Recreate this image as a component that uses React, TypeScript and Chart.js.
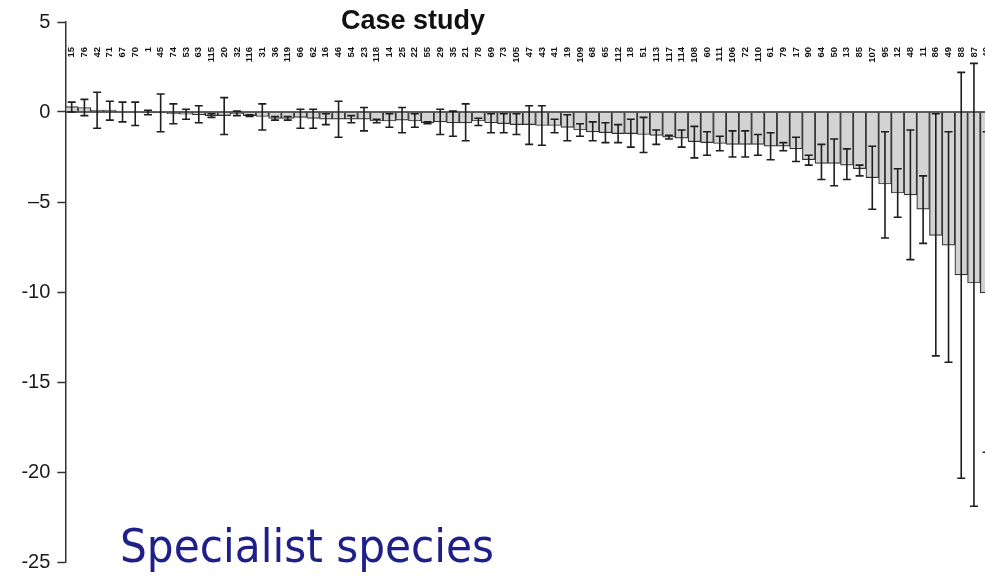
import React, { useEffect, useRef } from "react";
import { Chart, registerables } from "chart.js";

Chart.register(...registerables);

// ---- data ----
const caseStudies = [
  "15", "76", "42", "71", "67", "70", "1", "45", "74", "53",
  "63", "115", "20", "32", "116", "31", "36", "119", "66", "62",
  "16", "46", "54", "23", "118", "14", "25", "22", "55", "29",
  "35", "21", "78", "69", "73", "105", "47", "43", "41", "19",
  "109", "68", "65", "112", "18", "51", "113", "117", "114", "108",
  "60", "111", "106", "72", "110", "61", "79", "17", "90", "64",
  "50", "13", "85", "107", "95", "12", "48", "11", "86", "49",
  "88", "87", "40",
];

const means = [
  0.3, 0.25, 0.1, 0.1, 0.0, 0.0, -0.05, -0.05, -0.1, -0.12,
  -0.15, -0.2, -0.2, -0.1, -0.2, -0.25, -0.35, -0.35, -0.3, -0.35,
  -0.4, -0.4, -0.4, -0.4, -0.5, -0.5, -0.45, -0.5, -0.6, -0.55,
  -0.6, -0.6, -0.5, -0.6, -0.65, -0.7, -0.7, -0.75, -0.75, -0.85,
  -1.0, -1.1, -1.15, -1.2, -1.2, -1.25, -1.3, -1.4, -1.45, -1.65,
  -1.7, -1.75, -1.8, -1.8, -1.8, -1.9, -1.9, -2.05, -2.65, -2.85,
  -2.85, -2.95, -3.15, -3.65, -4.0, -4.5, -4.6, -5.4, -6.85, -7.4,
  -9.05, -9.5, -10.05,
];

const lowerBounds = [
  0.0, -0.2, -0.9, -0.45, -0.55, -0.75, -0.15, -1.1, -0.65, -0.4,
  -0.6, -0.3, -1.25, -0.2, -0.25, -1.0, -0.45, -0.45, -0.9, -0.9,
  -0.7, -1.4, -0.6, -1.05, -0.6, -0.85, -1.15, -0.85, -0.65, -1.25,
  -1.35, -1.6, -0.75, -1.15, -1.15, -1.25, -1.8, -1.85, -1.15, -1.6,
  -1.35, -1.6, -1.7, -1.7, -1.95, -2.25, -1.8, -1.5, -1.95, -2.55,
  -2.4, -2.15, -2.5, -2.5, -2.4, -2.65, -2.15, -2.75, -2.95, -3.75,
  -4.1, -3.75, -3.55, -5.4, -7.0, -5.85, -8.2, -7.3, -13.55, -13.9,
  -20.35, -21.9, -18.9,
];

const upperBounds = [
  0.55, 0.7, 1.1, 0.6, 0.55, 0.55, 0.1, 1.0, 0.45, 0.15,
  0.35, -0.1, 0.8, 0.05, -0.15, 0.45, -0.25, -0.25, 0.15, 0.15,
  -0.1, 0.6, -0.2, 0.25, -0.4, -0.1, 0.25, -0.1, -0.55, 0.15,
  0.05, 0.45, -0.35, -0.1, -0.1, -0.1, 0.35, 0.35, -0.4, -0.15,
  -0.65, -0.55, -0.6, -0.7, -0.4, -0.3, -1.0, -1.3, -1.0, -0.8,
  -1.1, -1.35, -1.05, -1.05, -1.25, -1.15, -1.7, -1.4, -2.4, -1.8,
  -1.5, -2.05, -2.95, -1.9, -1.1, -3.15, -1.0, -3.55, -0.1, -1.1,
  2.2, 2.7, -1.1,
];

const yTickValues = [5, 0, -5, -10, -15, -20, -25];
const yTickLabels = ["5", "0", "\u20135", "-10", "-15", "-20", "-25"];

const titleText = "Case study";
const captionText = "Specialist species";

// ---- plugins ----
const errorBarPlugin = {
  id: "errorBars",
  afterDatasetsDraw(chart: any) {
    const { ctx, chartArea } = chart;
    const yScale = chart.scales.y;
    const meta = chart.getDatasetMeta(0);
    ctx.save();
    // zero line
    const y0 = yScale.getPixelForValue(0);
    ctx.strokeStyle = "#2a2a2a";
    ctx.lineWidth = 1.5;
    ctx.beginPath();
    ctx.moveTo(chartArea.left, y0);
    ctx.lineTo(chartArea.right, y0);
    ctx.stroke();
    // error bars
    const cap = 4;
    ctx.strokeStyle = "#1e1e1e";
    ctx.lineWidth = 1.6;
    meta.data.forEach((bar: any, i: number) => {
      const x = bar.x;
      const yLo = yScale.getPixelForValue(lowerBounds[i]);
      const yHi = yScale.getPixelForValue(upperBounds[i]);
      ctx.beginPath();
      ctx.moveTo(x, yLo);
      ctx.lineTo(x, yHi);
      ctx.moveTo(x - cap, yLo);
      ctx.lineTo(x + cap, yLo);
      ctx.moveTo(x - cap, yHi);
      ctx.lineTo(x + cap, yHi);
      ctx.stroke();
    });
    ctx.restore();
  },
};

const caseLabelPlugin = {
  id: "caseLabels",
  afterDraw(chart: any) {
    const { ctx } = chart;
    const xScale = chart.scales.x;
    ctx.save();
    ctx.fillStyle = "#111";
    ctx.font = 'bold 9.5px "Liberation Sans", Arial, sans-serif';
    ctx.textAlign = "right";
    ctx.textBaseline = "middle";
    caseStudies.forEach((lab, i) => {
      const x = xScale.getPixelForValue(i);
      ctx.save();
      ctx.translate(x, 47);
      ctx.rotate(-Math.PI / 2);
      ctx.fillText(lab, 0, 0);
      ctx.restore();
    });
    ctx.restore();
  },
};

export default function App() {
  const canvasRef = useRef<HTMLCanvasElement | null>(null);

  useEffect(() => {
    if (!canvasRef.current) return;
    const chart = new Chart(canvasRef.current, {
      type: "bar",
      data: {
        labels: caseStudies,
        datasets: [
          {
            data: means,
            backgroundColor: "#d3d3d3",
            borderColor: "#333333",
            borderWidth: 1.2,
            barPercentage: 1,
            categoryPercentage: 1,
          },
        ],
      },
      options: {
        responsive: false,
        animation: false,
        devicePixelRatio: 1,
        layout: { padding: { top: 22, bottom: 14, left: 0, right: 0 } },
        plugins: {
          legend: { display: false },
          tooltip: { enabled: false },
          title: { display: false },
        },
        scales: {
          x: {
            type: "category",
            display: false,
            offset: true,
          },
          y: {
            min: -25,
            max: 5,
            afterFit(scale: any) {
              scale.width = 65.35;
              scale.paddingTop = 0;
              scale.paddingBottom = 0;
            },
            afterBuildTicks(scale: any) {
              scale.ticks = yTickValues.map((v) => ({ value: v }));
            },
            ticks: {
              stepSize: 5,
              padding: 7,
              color: "#1a1a1a",
              font: { family: '"Liberation Sans", Arial, sans-serif', size: 20 },
              callback: (v: any) => {
                const idx = yTickValues.indexOf(Number(v));
                return idx >= 0 ? yTickLabels[idx] : "";
              },
            },
            grid: {
              drawOnChartArea: false,
              color: "rgba(0,0,0,0)",
              tickColor: "#333",
              tickLength: 8,
              tickWidth: 1.5,
            },
            border: { display: true, color: "#333", width: 1.5 },
          },
        },
      },
      plugins: [errorBarPlugin, caseLabelPlugin],
    });
    return () => chart.destroy();
  }, []);

  return (
    <div
      style={{
        position: "absolute",
        left: 0,
        top: 0,
        width: 985,
        height: 576,
        overflow: "hidden",
        background: "#fff",
      }}
    >
      <canvas
        ref={canvasRef}
        width={993}
        height={576}
        style={{ position: "absolute", left: 0, top: 0, width: 993, height: 576 }}
      />
      <div
        style={{
          position: "absolute",
          left: 413,
          top: 7,
          transform: "translateX(-50%)",
          fontFamily: '"Liberation Sans", Arial, sans-serif',
          fontWeight: "bold",
          fontSize: 27,
          lineHeight: "27px",
          color: "#111",
          whiteSpace: "nowrap",
        }}
      >
        {titleText}
      </div>
      <div
        style={{
          position: "absolute",
          left: 120,
          top: 522,
          fontFamily: '"DejaVu Sans Condensed", "DejaVu Sans", sans-serif',
          fontStretch: "condensed",
          fontSize: 47,
          lineHeight: "47px",
          color: "#1f1f8a",
          whiteSpace: "nowrap",
        }}
      >
        {captionText}
      </div>
    </div>
  );
}
